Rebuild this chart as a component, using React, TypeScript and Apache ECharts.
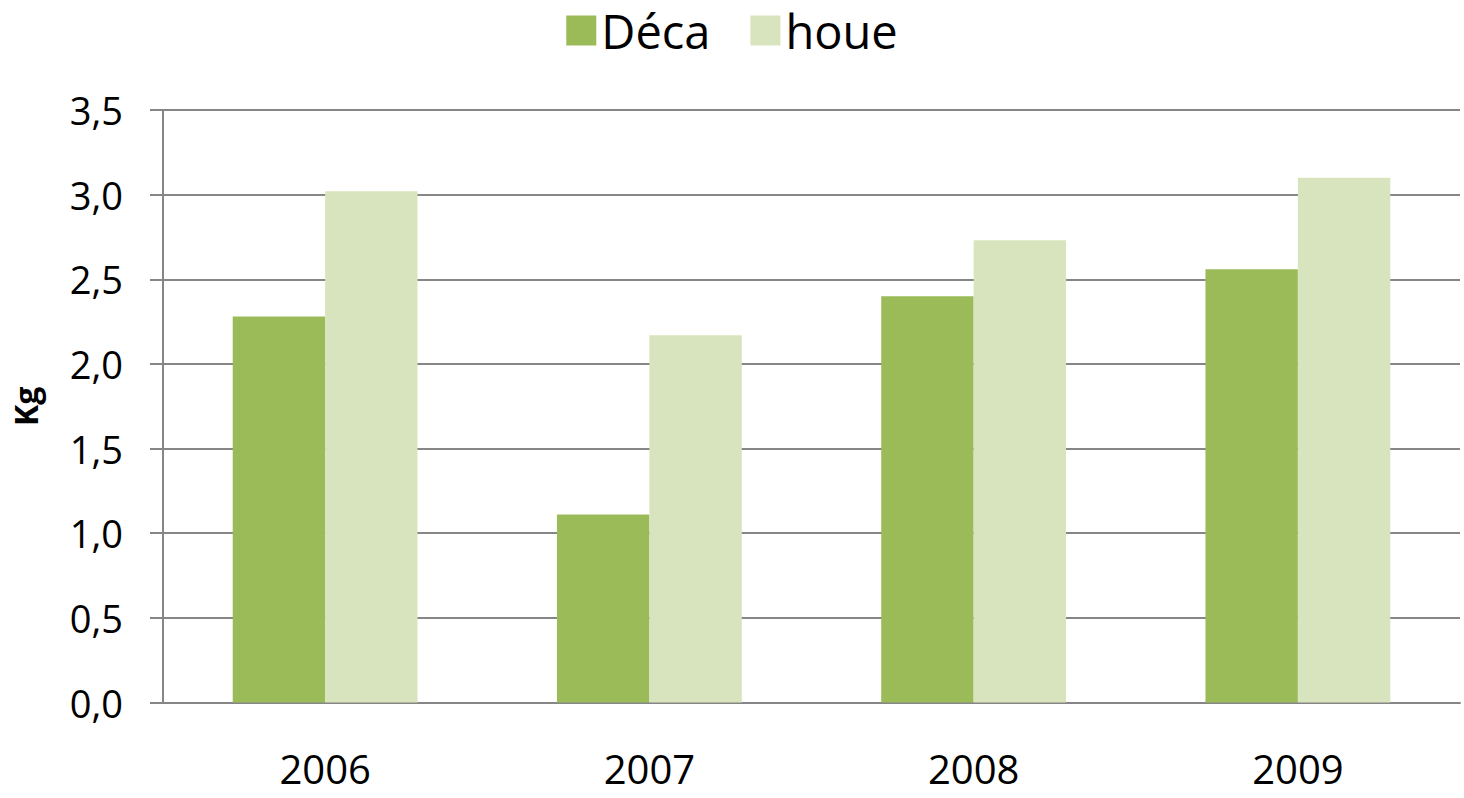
import React, { useEffect, useRef } from "react";
import * as echarts from "echarts";

const years = ["2006", "2007", "2008", "2009"];
const deca = [2.28, 1.11, 2.4, 2.56];
const houe = [3.02, 2.17, 2.73, 3.1];

export default function App() {
  const ref = useRef<HTMLDivElement>(null);
  useEffect(() => {
    const chart = echarts.init(ref.current!, null, { renderer: "svg" });
    const font = "'Open Sans', 'Liberation Sans', sans-serif";
    chart.setOption({
      animation: false,
      textStyle: { fontFamily: font },
      legend: {
        top: 2,
        left: "center",
        itemWidth: 30,
        itemHeight: 30,
        itemGap: 40,
        icon: "rect",
        textStyle: { fontSize: 47, color: "#000", fontFamily: font },
        data: ["Déca", "houe"],
      },
      grid: { left: 163, right: 4, top: 110, bottom: 95.5 },
      xAxis: {
        type: "category",
        data: years,
        axisLine: { lineStyle: { color: "#868686", width: 2 } },
        axisTick: { length: 14, lineStyle: { color: "#868686", width: 2 } },
        axisLabel: { fontSize: 40, lineHeight: 40, color: "#000", margin: 46, fontFamily: font },
      },
      yAxis: {
        type: "value",
        min: 0,
        max: 3.5,
        interval: 0.5,
        name: "Kg",
        nameLocation: "middle",
        nameGap: 122,
        nameRotate: 90,
        nameTextStyle: { fontSize: 32, fontWeight: "bold", color: "#000", fontFamily: font },
        axisLine: { show: true, lineStyle: { color: "#868686", width: 2 } },
        axisTick: { show: true, length: 13, lineStyle: { color: "#868686", width: 2 } },
        splitLine: { lineStyle: { color: "#868686", width: 2 } },
        axisLabel: {
          fontSize: 38,
          color: "#000",
          margin: 40,
          fontFamily: font,
          formatter: (v: number) => v.toFixed(1).replace(".", ","),
        },
      },
      series: [
        {
          name: "Déca",
          type: "bar",
          data: deca,
          barGap: "0%",
          barCategoryGap: "43%",
          itemStyle: { color: "#9BBB59" },
        },
        {
          name: "houe",
          type: "bar",
          data: houe,
          barGap: "0%",
          barCategoryGap: "43%",
          itemStyle: { color: "#D7E4BD" },
        },
      ],
    });
    return () => chart.dispose();
  }, []);
  return (
    <div
      ref={ref}
      style={{ position: "fixed", left: 0, top: 0, width: 1464, height: 798, background: "#fff" }}
    />
  );
}
